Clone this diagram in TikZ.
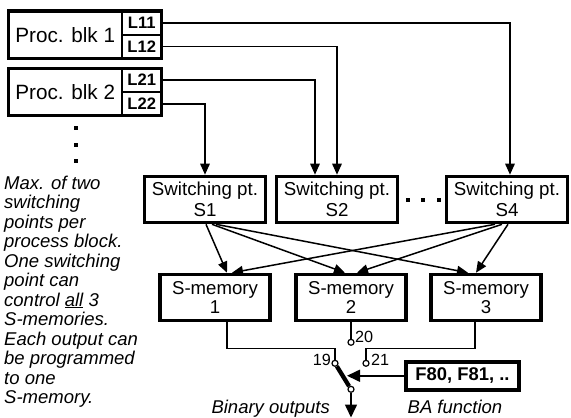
\documentclass[tikz,border=0pt]{standalone}
\usepackage{fontspec}
\setmainfont{Liberation Sans}
\usetikzlibrary{arrows.meta,positioning}
\newcommand{\setfs}[2]{\fontsize{#1}{#2}\selectfont}

\begin{document}
\begin{tikzpicture}[
  x=1pt, y=-1pt,
  procbox/.style={draw, line width=1.7pt, outer sep=0pt, inner sep=0pt,
              minimum width=113.5pt, minimum height=47.5pt, font=\setfs{20.7}{22}},
  lcell/.style={draw, line width=1.7pt, outer sep=0pt, inner sep=0pt,
              minimum width=39.5pt, minimum height=23.75pt, font=\bfseries\setfs{16.6}{18}},
  outline/.style={line width=3.4pt},
  swbox/.style={draw, line width=3.6pt, inner sep=0pt, align=center,
              minimum width=121pt, minimum height=46pt, font=\setfs{18.7}{21},
              execute at begin node={\rule{0pt}{20.5pt}}},
  membox/.style={draw, line width=3.6pt, inner sep=0pt, align=center,
              minimum width=110pt, minimum height=46pt, font=\setfs{18.6}{19},
              execute at begin node={\rule{0pt}{20.5pt}}},
  fnbox/.style={draw, line width=4pt, inner sep=0pt,
              minimum width=113pt, minimum height=27.5pt, font=\bfseries\setfs{18.4}{20}},
  contact/.style={circle, draw, fill=white, line width=1.2pt, inner sep=0pt, minimum size=6pt},
  pinlabel/.style={inner sep=0pt, font=\setfs{16.2}{18}},
  note/.style={inner sep=0pt, font=\itshape\setfs{18.5}{19.5}},
  wire/.style={line width=1.5pt},
  arrow/.style={-{Triangle[length=11pt,width=9.5pt]}, line width=1.5pt},
  bigarrow/.style={-{Triangle[length=13pt,width=12pt]}, line width=1.6pt},
  blade/.style={line width=4.3pt}
]
\useasboundingbox (0,0) rectangle (571,418);

% process blocks
\node[procbox] (blk1) at (65.25,34.75) {Proc. blk 1};
\node[lcell, anchor=south west] (l11) at (blk1.east) {L11};
\node[lcell, anchor=north west] (l12) at (blk1.east) {L12};
\draw[outline] (blk1.north west) rectangle (l12.south east);

\node[procbox] (blk2) at (65.25,92) {Proc. blk 2};
\node[lcell, anchor=south west] (l21) at (blk2.east) {L21};
\node[lcell, anchor=north west] (l22) at (blk2.east) {L22};
\draw[outline] (blk2.north west) rectangle (l22.south east);

\foreach \y in {128,145,161}
  \fill (76,\y) +(-2.2,-2.2) rectangle +(2.2,2.2);

% switching points
\node[swbox] (s1) at (205,199.5) {Switching pt.\\S1};
\node[swbox] (s2) at (337,199.5) {Switching pt.\\S2};
\node[swbox] (s4) at (507,199.5) {Switching pt.\\S4};
\foreach \x in {408,423,439}
  \fill (\x,200) +(-2.3,-2.3) rectangle +(2.3,2.3);

% S-memories
\node[membox] (m1) at (215,297.5) {S-memory\\1};
\node[membox] (m2) at (351,297.5) {S-memory\\2};
\node[membox] (m3) at (486,297.5) {S-memory\\3};

\draw[arrow] (l11.east) -| ([xshift=3pt]s4.north);
\draw[arrow] (l12.east) -| (s2.north);
\draw[arrow] (l21.east) -| ([xshift=-22pt]s2.north);
\draw[arrow] (l22.east) -| (s1.north);

\draw[arrow] ([xshift=1pt]s1.south) -- ([xshift=12pt]m1.north);
\draw[arrow] ([xshift=7pt]s1.south) -- ([xshift=-6pt]m2.north);
\draw[arrow] ([xshift=11pt]s1.south) -- ([xshift=-18pt]m3.north);
\draw[arrow] ([xshift=-12pt]s4.south) -- ([xshift=17pt]m1.north);
\draw[arrow] ([xshift=-5pt]s4.south) -- ([xshift=6pt]m2.north);
\draw[arrow] ([xshift=1pt]s4.south) -- ([xshift=-10pt]m3.north);

% output selector
\node[contact] (c19) at (335,363.3) {};
\node[contact] (c20) at (351,342.3) {};
\node[contact] (c21) at (366,363.3) {};
\node[contact] (cout) at (351,389.3) {};
\node[pinlabel, anchor=base east] (n19) at (331,365) {19};
\node[pinlabel, anchor=base west] (n20) at (355,342) {20};
\node[pinlabel, anchor=base west] (n21) at (371,365) {21};

\draw[wire] ([xshift=12pt]m1.south) |- ([yshift=15pt]c19.center) -- (c19);
\draw[wire] (m2.south) -- (c20);
\draw[wire] ([xshift=-11pt]m3.south) |- ([yshift=15pt]c21.center) -- (c21);
\draw[blade] (c19) -- (cout);

\coordinate (outend) at (351,417.5);
\draw[bigarrow] (cout) -- (outend);

\node[fnbox] (fn) at (462.5,375.75) {F80, F81, ..};
\coordinate (hit) at (347,375.75);
\draw[bigarrow] (fn.west) -- (hit);

% captions
\node[note, anchor=base east] (binout) at (330,413.3) {Binary outputs};
\node[note, anchor=base] (bafn) at (455,413.3) {BA function};
\node[note, anchor=north west, align=left] (remark) at (4,175.5)
  {Max. of two\\switching\\points per\\process block.\\One switching\\point can\\
   control \underline{all} 3\\S-memories.\\Each output can\\be programmed\\to one\\S-memory.};
\end{tikzpicture}
\end{document}
